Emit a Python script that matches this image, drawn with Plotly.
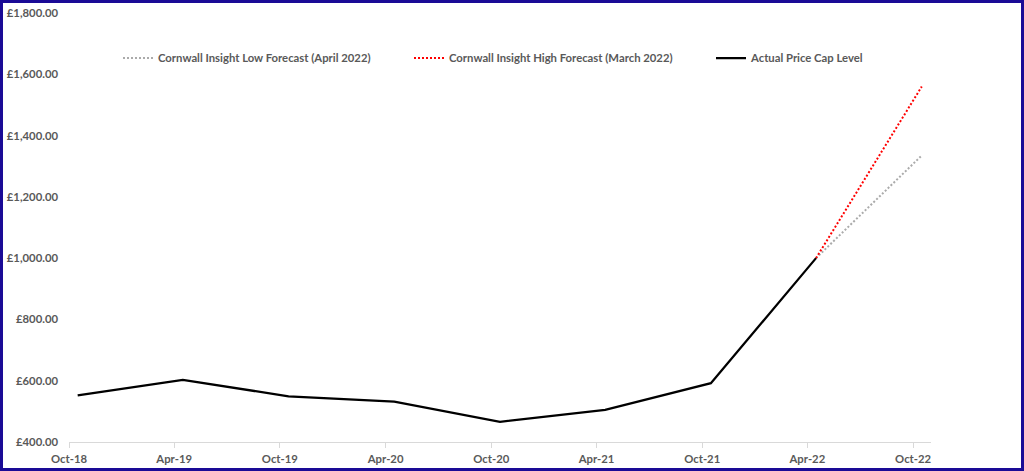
import plotly.graph_objects as go

# ---- data ----
actual_dates = ["2018-10-16", "2019-04-16", "2019-10-16", "2020-04-16", "2020-10-16",
                "2021-04-16", "2021-10-16", "2022-04-16"]
actual_values = [552, 603, 549, 532, 466, 505, 592, 1000]

forecast_dates = ["2022-04-16", "2022-10-16"]
low_forecast = [1000, 1335]
high_forecast = [1000, 1560]

tick_dates = ["2018-10-01", "2019-04-01", "2019-10-01", "2020-04-01", "2020-10-01",
              "2021-04-01", "2021-10-01", "2022-04-01", "2022-10-01"]
tick_labels = ["Oct-18", "Apr-19", "Oct-19", "Apr-20", "Oct-20",
               "Apr-21", "Oct-21", "Apr-22", "Oct-22"]

y_ticks = [400, 600, 800, 1000, 1200, 1400, 1600, 1800]
y_tick_labels = ["\u00a3{:,.2f}".format(v) for v in y_ticks]

names = ["Cornwall Insight Low Forecast (April 2022)",
         "Cornwall Insight High Forecast (March 2022)",
         "Actual Price Cap Level"]

TXT = "#595959"
FONT = dict(family="Lato", size=11.3, color=TXT, weight="bold")

fig = go.Figure()
fig.add_trace(go.Scatter(x=forecast_dates, y=low_forecast, mode="lines", name=names[0],
                         line=dict(color="#ABABAB", width=2, dash="2px,2px"), legend="legend"))
fig.add_trace(go.Scatter(x=forecast_dates, y=high_forecast, mode="lines", name=names[1],
                         line=dict(color="#FF0000", width=2, dash="2px,2px"), legend="legend2"))
fig.add_trace(go.Scatter(x=actual_dates, y=actual_values, mode="lines", name=names[2],
                         line=dict(color="#000000", width=2.25), legend="legend3"))

L, R, T, B = 69, 93, 13, 29
W, H = 1024, 471
pw, ph = W - L - R, H - T - B

def px_x(p):
    return (p - L) / pw

def px_y(p):
    return (H - B - p) / ph

leg_common = dict(orientation="h", yanchor="middle", xanchor="left", font=FONT,
                  bgcolor="rgba(0,0,0,0)", itemwidth=30)

fig.update_layout(
    width=W, height=H,
    margin=dict(l=L, r=R, t=T, b=B, pad=0, autoexpand=False),
    paper_bgcolor="white", plot_bgcolor="white",
    font=FONT,
    showlegend=True,
    legend=dict(x=px_x(118), y=px_y(58), **leg_common),
    legend2=dict(x=px_x(409), y=px_y(58), **leg_common),
    legend3=dict(x=px_x(711), y=px_y(58), **leg_common),
    xaxis=dict(type="date", range=["2018-10-01", "2022-11-01"],
               tickvals=tick_dates, ticktext=tick_labels,
               showgrid=False, zeroline=False, automargin=False,
               showline=True, linecolor="#D9D9D9", linewidth=1,
               ticks="outside", ticklen=5, tickcolor="#D9D9D9",
               ticklabelstandoff=1, tickfont=FONT),
    yaxis=dict(range=[400, 1800], tickvals=y_ticks, ticktext=y_tick_labels,
               showgrid=False, zeroline=False, showline=False, automargin=False,
               ticks="", ticklabelstandoff=10, tickfont=FONT),
    shapes=[dict(type="rect", xref="paper", yref="paper",
                 x0=px_x(1.5), x1=px_x(1022.5), y0=px_y(469.5), y1=px_y(1.5),
                 line=dict(color="#1A0A96", width=3), fillcolor="rgba(0,0,0,0)",
                 layer="above")],
)

fig.write_html("out.html", config={"displayModeBar": False},
               post_script="document.body.style.margin='0';document.body.style.overflow='hidden';")
